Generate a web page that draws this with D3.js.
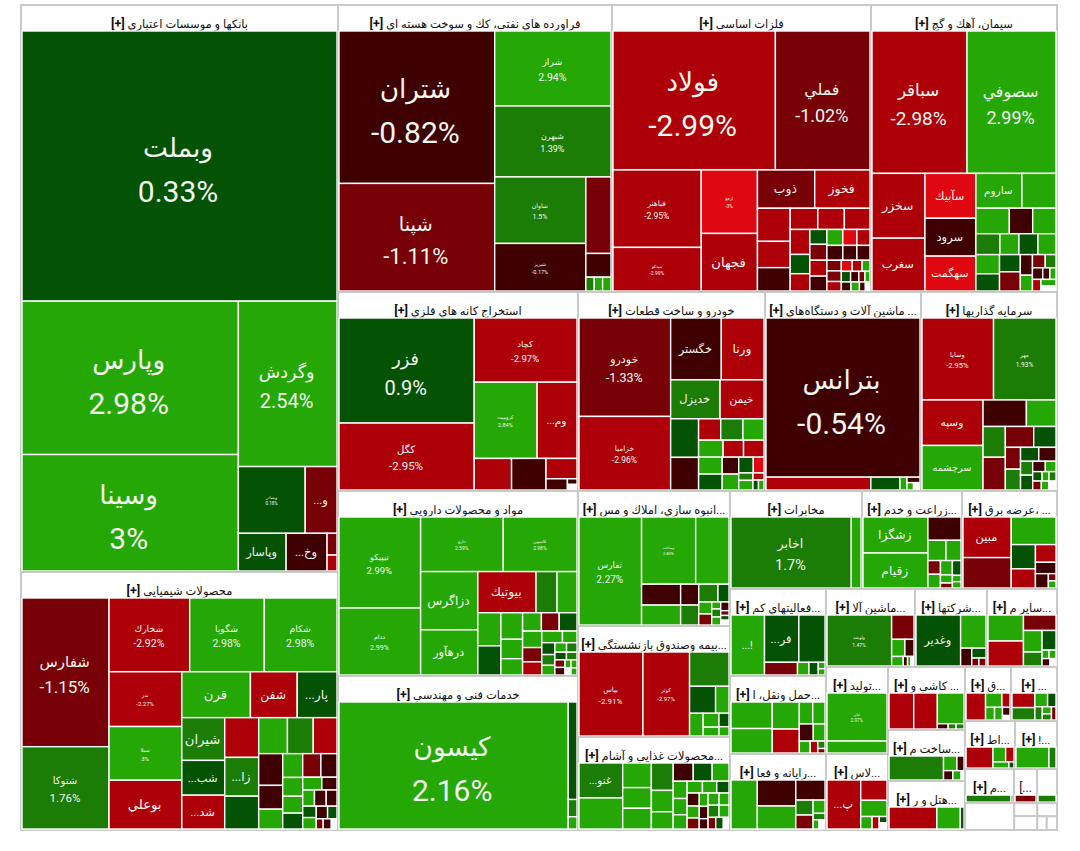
<!DOCTYPE html>
<html><head><meta charset="utf-8">
<script src="https://cdnjs.cloudflare.com/ajax/libs/d3/7.8.5/d3.min.js"></script>
<style>html,body{margin:0;padding:0;background:#fff}svg{display:block}</style></head>
<body><svg id="c" width="1080" height="851"></svg>
<script>
// Change levels read from cell colour where no label gives the exact figure
const g3=2.5,g2=1.5,g1=0.5,r1=-0.5,r2=-1.5,r3=-2.5,r4=-3.5,blank=null;

// Each leaf: [weight, change %, symbol, show %]; 'R' = side by side, 'C' = stacked
const banks=['C',[85094,0.33,'وبملت',1],['R',['C',[33048,2.98,'وپارس',1],[25056,3,'وسينا',1]],['C',[16170,2.54,'وگردش',1],['R',[4356,0.18,'وبصادر',1],[2046,r2,'و...']],['R',[1728,g1,'وپاسار'],[1476,r1,'وخ...'],['C',[189,r2],[135,r3]]]]]];

const chemA=['R',['C',[132,g1],[132,g3]],['C',['R',[121,r1],[99,g1]],['R',[55,r2],[66,r1],[44,blank]]]];
const chemB=['C',['R',[391,r2],[345,r1]],['R',[216,g3],[168,r1]],['R',[165,g3],[165,r1],[150,r1]],chemA];
const chemC=['R',['C',[713,r1],[529,r1],[437,g3]],['C',[437,g3],[342,g3],[304,g3],[285,g1]],chemB];
const chemD=['C',['R',[980,g3],[875,g2],[805,r3]],chemC];
const chemE=['R',['C',[1764,g2,'شيران'],[1428,g1,'شب...'],[1386,r3,'شد...']],['C',[1287,r3],[1254,g2,'زا...'],[1056,g1]],chemD];
const chemF=['C',['R',[3060,g3,'قرن'],[2070,r3,'شفن'],[1755,g1,'پار...']],chemE];
const chemicals=['R',['C',[12814,-1.15,'شفارس',1],[7052,1.76,'شتوکا',1]],['C',['R',[5840,-2.92,'شخارك',1],[5402,2.98,'شگويا',1],[5256,2.98,'شکام',1]],['R',['C',[3888,-2.27,'ندر',1],[3816,3,'سيلا',1],[3456,r3,'بوعلي']],chemF]]];

const oil=['R',['C',[23560,-0.82,'شتران',1],[16585,-1.11,'شپنا',1]],['C',[8584,2.94,'شراز',1],[8120,1.39,'شبهرن',1],['R',['C',[5940,1.5,'شاوان',1],[4230,-0.17,'شبريز',1]],['C',[1848,r2],[552,r1],['R',[96,g2],[96,g3],[96,g3]]]]]];

const metA=['R',['C',[130,r2],[130,r2],[115,r3]],['C',['R',[100,r4],[90,r3],[70,g3]],['R',[80,g1],[70,r1],[50,r2],[40,g3]],['R',[70,r1],[60,g3],[40,r1],[30,blank]]]];
const metB=['C',['R',[224,g3],[196,r4],[182,r3]],['R',[208,r1],[182,r1],[169,r1]],metA];
const metC=['R',['C',[450,r3],[342,g1],[306,r3]],['C',[224,g1],[240,r2],[240,r3],[224,r1]],metB];
const metD=['C',['R',[540,r3],[520,r3],[500,r3]],metC];
const metE=['C',['R',[2109,r2,'ذوب'],[2035,r3,'فخوز']],['R',['C',[1023,r3],[806,r3],[713,r1]],metD]];
const metals=['C',['R',[22356,-2.99,'فولاد',1],[12972,-1.02,'فملي',1]],['R',['C',[6699,-2.95,'فباهنر',1],[3741,-2.99,'ميدکو',1]],['C',[3465,-3,'ارفع',1],[3135,r3,'فجهان']],metE]];

const cemA=['R',['C',[414,g3],[368,g1]],['C',[323,g1],[361,r2]],['C',[220,r1],[165,g3]],['C',['R',[144,r2],[120,g2]],['R',[99,r1],[66,r1],[55,g3]],['R',[80,r3],['C',[80,g3],[60,blank]]]]];
const cemB=['C',['R',[1530,g3,'ساروم'],[1122,g3]],['R',[800,g3],[550,r1],[550,g3]],['R',[460,g2],[360,g3],[360,g1],[340,g3]],cemA];
const cement=['C',['R',[13348,-2.98,'سباقر',1],[12496,2.99,'سصوفي',1]],['R',['C',[3328,r3,'سخزر'],[2704,r3,'سغرب']],['C',[2200,r4,'سآبيك'],[1850,r1,'سرود'],[1700,r4,'سهگمت']],cemB]];

const mineA=['R',[1110,r3],[1020,r1],['C',[580,r3],['R',[210,r1],['C',[40,r1],[40,blank]]]]];
const mining=['R',['C',[13936,0.9,'فزر',1],[8844,-2.95,'کگل',1]],['C',[6426,-2.97,'کچاد',1],['R',[4650,2.84,'کروميت',1],[2925,r3,'وم...']],mineA]];

const autoA=['C',['R',[196,g1],[140,r4]],['R',['C',[84,g2],[112,g3]],['C',[60,r3],['R',[40,g1],[40,g3]]]]];
const autoB=['C',['R',[420,r3],[420,g2],[399,g3]],['R',[368,g3],[304,r3],[304,r3]],['R',['C',[352,g3],[330,g1]],['C',[240,r1],[225,g3]],autoA]];
const autoC=['C',['R',[2950,r1,'خگستر'],[2478,r3,'ورنا']],['R',[1795,g2,'خديزل'],[1591,r3,'خيمن']]];
const auto=['R',['C',[8624,-1.33,'خودرو',1],[6424,-2.96,'خزاميا',1]],['C',autoC,['R',['C',[988,g1],[832,r1]],autoB]]];

const machinery=['C',[24174,-0.54,'بترانس',1],['R',[1272,r3],[336,g1],[72,g3],['C',[55,r1],['R',[35,g3],[35,blank]]]]];

const invA=['C',['R',[108,r1],[90,g3]],['R',[70,g1],[50,g3],[50,g2]],['R',[60,r2],[50,g3],[50,blank]]];
const invB=['R',['C',[143,g2],[154,g1]],invA];
const invC=['C',['R',[221,g1],[208,r1]],invB];
const invD=['R',['C',[294,r2],[280,g2]],invC];
const invE=['C',['R',[540,r2],[420,g1]],invD];
const invF=['R',['C',[630,g2],[672,r2]],invE];
const invG=['C',['R',[1075,r1],[725,g3]],invF];
const investment=['C',['R',[5670,-2.95,'وسايا',1],[4941,1.93,'مهر',1]],['R',['C',[2655,r3,'وسپه'],[2596,g3,'سرچشمه']],invG]];

const phA=['C',['R',[90,g3],[80,g2]],['R',[70,g1],[63,g2]],['R',['C',[60,r2],[60,r1]],['C',['R',[35,g3],[35,g3]],['R',[30,blank],[30,g3]]]]];
const phB=['R',['C',[130,g1],[117,g2],[104,g3]],phA];
const phC=['C',['R',[209,g3],[143,g3]],phB];
const phD=['R',['C',[280,g3],[240,r2],[220,r3]],phC];
const phE=['C',['R',[306,g3],[289,r2],[289,g1]],phD];
const phF=['R',['C',[704,g3],[616,g1]],['C',[525,g3],[378,g3],[315,g3]],phE];
const phG=['C',['R',[2280,r3,'بيوتيك'],[800,g2],[760,g3]],phF];
const pharma=['R',['C',[7200,2.99,'تيپيکو',1],[5280,2.99,'ددام',1]],['C',['R',[4346,2.59,'دارو',1],[3869,2.98,'کاسپين',1]],['R',['C',[3192,g3,'دزاگرس'],[2464,g3,'درهآور']],phG]]];

const engineering=['R',[28956,2.16,'کيسون',1],['C',[800,g1],[128,g2],[88,g3]]];

const massA=['C',['R',[306,g2],[170,g1]],['R',['C',[132,g3],[120,r2]],['C',[48,g3],[56,g2],[56,g3]],['C',[56,r1],[28,r2],[28,g1],[28,blank]]]];
const massBuild=['R',[6588,2.27,'ثفارس',1],['C',['R',[3510,2.85,'وساخت',1],[2145,g3]],['R',['C',[760,r1],[722,g3]],['C',[340,r1],[323,g2]],massA]]];

const insurance=['R',[5022,-2.91,'بپاس',1],[3645,-2.97,'کوثر',1],['C',[1230,g2],['R',[624,g1],[312,g3]],['R',[264,g3],['C',[182,g3],[112,g3]],['C',[108,g1],[72,g3]]]]];

const foodA=['R',['C',[132,r1],[121,g3],[110,r2]],['C',[96,g3],[88,r1],[72,r1]],['C',['R',[110,g3],[99,g3]],['R',[110,g2],[99,g3]],['R',[70,r2],[70,g1],[50,blank]]]];
const foodB=['C',['R',[154,g3],[143,g3],[121,g1]],foodA];
const foodC=['C',['R',[324,r1],[306,g1],[270,g3]],['R',['C',[208,g3],[195,g3],[169,g3]],foodB]];
const food=['R',['C',[1435,g2,'غنو...'],[1271,g3]],['C',[648,g3],[540,g3],[540,g3]],['C',[546,g2],[420,g3],[336,g3]],foodC];

const telecom=['R',[8260,1.7,'اخابر',1],[630,g3]];
const agriculture=['R',['C',[2205,g3,'زشگزا'],[2142,g3,'زقيام']],['C',[704,r1],['R',[323,g3],[266,g3]],['R',['C',[144,r2],[144,g3]],['C',[143,g3],[77,g3],[44,r2]],['C',[104,g1],[40,g3],[40,g3]]]]];
const elecA=['C',[320,r3],[200,r1],['R',[156,r1],['C',[40,r2],[40,g3]]]];
const electricity=['R',['C',[1833,r3,'مبين'],[1363,r2]],['C',[1144,g3],['R',['C',[529,g1],[414,r3]],elecA]]];
const lowActivity=['R',[1888,g3,'!...'],['C',['R',[1518,g1,'فر...'],[1150,g1]],['R',[372,r2],[120,g3],[96,g1],['C',[30,g3],[30,g3]]]]];
const transport=['R',['C',[950,g3],[874,g3]],['C',[625,g3],[550,r3]],['C',['R',[240,g3],[220,g3]],['R',[192,r1],[160,g3]],['R',[99,g3],[66,r3],['C',[36,g2],[20,r2]]]]];
const computers=['R',[1200,g3],['C',[925,r1],[814,g3]],['C',[532,r1],['R',['C',[224,g2],[208,r2]],['C',[132,g3],[60,g2],['R',[40,g3],[40,blank]]]]]];
const machinery2=['R',[3087,1.47,'ولوشه',1],['C',[483,r2],['R',[192,g3],[128,r1]],['R',[88,g3],[28,r1],[20,g3],[20,blank]]]];
const companies=['R',[2156,g1,'وغدير'],['C',[775,g3],['R',[170,r1],['C',[117,g1],['R',[42,r2],[42,r2]]]]]];
const others=['R',['C',[816,g3],[782,r3]],['C',[434,r2],['R',['C',[342,g3],[216,g2]],['C',[228,g1],['R',[42,g3],[42,g3]],['R',[42,r1],[30,blank]]]]]];
const production=['C',[2714,2.97,'ثبان',1],[649,g3]];
const glass=['R',[1584,r3,'پ...'],['C',[494,r3],[390,g3],['R',[120,g3],[72,r3],['C',[36,g1],[36,blank]]]]];
const ceramics=['R',[782,r3],[748,r3],['C',[720,g3],['R',[40,r1],[28,g2],[28,g2]]]];
const construction=['R',[1144,g2],['C',['R',[156,g3],[78,r1]],['R',[64,r1],[56,g3],[16,blank]]]];
const hotels=['R',[966,r3],[462,g3],[63,g1]];
const sectorQ=['R',[494,r3],['C',['R',[210,g3],[98,r3]],['R',[96,g3],[84,g3],['C',[48,r1],[24,blank]]]]];
const sectorX=['R',['C',[286,r3],[242,g2]],['C',['R',[143,g3],[91,g1]],['R',[77,g2],['C',[48,g3],[40,g2]],[44,r2]]]];
const sectorAt=['R',[494,r3],['C',['R',[154,g3],[98,r3]],['R',[75,g3],[20,g1]]]];
const sectorEx=['R',[589,g3],[114,g2]];
const sectorM=['R',[235,g2],[6,g1]];
const sectorBr=['R',[80,r2]];
const sectorEnd=['R',[60,g2]];

const sectorTitles={banks:'بانکها و موسسات اعتباري',chemicals:'محصولات شيميايي',oil:'فراورده هاي نفتي، کك و سوخت هسته اي',metals:'فلزات اساسي',cement:'سيمان، آهك و گچ',mining:'استخراج کانه هاي فلزي',auto:'خودرو و ساخت قطعات',machinery:'... ماشين آلات و دستگاه‌هاي',investment:'سرمايه گذاريها',pharma:'مواد و محصولات دارويي',engineering:'خدمات فني و مهندسي',massBuild:'...انبوه سازي، املاك و مس',insurance:'...بيمه وصندوق بازنشستگي',food:'...محصولات غذايي و آشام',telecom:'مخابرات',agriculture:'...زراعت و خدم',electricity:'... ،عرضه برق',lowActivity:'...فعاليتهاي کم',transport:'...حمل ونقل، ا',computers:'...رايانه و فعا',machinery2:'...ماشين آلا',companies:'...شرکتها',others:'...ساير م',production:'...توليد',glass:'...لاس',ceramics:'... کاشي و',construction:'...ساخت م',hotels:'...هتل و ر',sectorQ:'...ق',sectorX:'...',sectorAt:'...اط',sectorEx:'...!',sectorM:'...م'};
const sectorCells={banks,chemicals,oil,metals,cement,mining,auto,machinery,investment,pharma,engineering,massBuild,insurance,food,telecom,agriculture,electricity,lowActivity,transport,computers,machinery2,companies,others,production,glass,ceramics,construction,hotels,sectorQ,sectorX,sectorAt,sectorEx,sectorM,sectorBr,sectorEnd};

// Sector weights: [weight, sector id]
const endRows=['C',['R',[2484,'sectorQ'],[2484,'sectorX']],['R',[2400,'sectorAt'],[2016,'sectorEx']],['R',[1666,'sectorM'],[782,'sectorBr'],[680,'sectorEnd']],['R',[1323,''],['C',[299,''],[322,'']],['C',[260,''],['R',[130,''],[140,'']]]]];
const smallBlock=['R',['C',[5394,'production'],[4712,'glass']],['C',[4851,'ceramics'],[3927,'construction'],[3773,'hotels']],endRows];
const rightBlock=['C',['R',[6942,'machinery2'],[5616,'companies'],[5460,'others']],smallBlock];
const lowerRight=['R',['C',[8352,'lowActivity'],[7488,'transport'],[7296,'computers']],rightBlock];
const farRight=['C',['R',[12936,'telecom'],[9800,'agriculture'],[9310,'electricity']],lowerRight];
const sectorTree=['R',
 ['C',[179739,'banks'],[81786,'chemicals']],
 ['C',
  ['R',[78638,'oil'],[74333,'metals'],[53382,'cement']],
  ['R',[47760,'mining'],[37213,'auto'],[31044,'machinery'],[27064,'investment']],
  ['R',['C',[44400,'pharma'],[36960,'engineering']],['C',[20520,'massBuild'],[16872,'insurance'],[14136,'food']],farRight]]];

// ---- styles, kept apart from the data
const labelSize={'وبملت':30,'وپارس':30,'وسينا':30,'وگردش':20,'وبصادر':4.5,'و...':13,'وپاسار':13,'وخ...':13,'شفارس':17,'شتوکا':11.5,'شخارك':10.5,'شگويا':10.5,'شکام':10.5,'ندر':6,'سيلا':6,'بوعلي':15,'قرن':15,'شفن':14,'پار...':14,'شيران':15,'شب...':13,'شد...':13,'زا...':14,'شتران':30,'شپنا':22,'شراز':10.5,'شبهرن':9,'شاوان':7,'شبريز':5.5,'فولاد':30,'فملي':18,'فباهنر':8.5,'ميدکو':5,'ارفع':5,'فجهان':15,'ذوب':14,'فخوز':14,'سباقر':19,'سصوفي':18,'سخزر':14,'سغرب':13,'سآبيك':13,'سرود':13,'سهگمت':12.5,'ساروم':12,'فزر':20,'کگل':11.5,'کچاد':9.5,'کروميت':5.5,'وم...':12,'خودرو':12.5,'خزاميا':8.5,'خگستر':13,'ورنا':14,'خديزل':13,'خيمن':12,'بترانس':30,'وسايا':7.5,'مهر':6.5,'وسپه':12,'سرچشمه':11,'تيپيکو':9.5,'ددام':7,'دارو':5,'کاسپين':5,'دزاگرس':14,'درهآور':13,'بيوتيك':14,'کيسون':30,'ثفارس':10,'وساخت':4,'بپاس':8,'کوثر':6,'غنو...':12,'اخابر':14.5,'زشگزا':14,'زقيام':14,'مبين':13,'!...':12,'فر...':13,'ولوشه':5,'وغدير':13,'ثبان':4.5,'پ...':13};
const levelColors=['#df0710','#ad0009','#780007','#3f0002','#045204','#1b7c06','#25a805'];
const color=d3.scaleThreshold().domain([-2.995,-2,-1,0,1,2]).range(levelColors);
const FRAME={x0:21,y0:5,x1:1057,y1:830},HEADER=26,NAME_SCALE=0.88;
const FONT="Roboto,'DejaVu Sans',sans-serif";

const isSplit=d=>d[0]==='R'||d[0]==='C';
const tile=(n,x0,y0,x1,y1)=>(n.data[0]==='C'?d3.treemapSlice:d3.treemapDice)(n,x0,y0,x1,y1);
// gap: the white line round a cell takes room, so a leaf's share grows by its perimeter
const layout=(tree,w,h,gap)=>d3.treemap().size([w,h]).tile(tile).round(false)(
  d3.hierarchy(tree,d=>isSplit(d)?d.slice(1):null).sum(d=>isSplit(d)?0:d[0]+2*gap*Math.sqrt(d[0])+gap*gap));

const svg=d3.select('#c');
const sectors=layout(sectorTree,FRAME.x1-FRAME.x0,FRAME.y1-FRAME.y0,0).leaves();
const root=svg.append('g').attr('transform',`translate(${FRAME.x0},${FRAME.y0})`);

const sg=root.selectAll('g.s').data(sectors).join('g').attr('class','s')
  .attr('transform',d=>`translate(${d.x0},${d.y0})`);
sg.append('rect').attr('width',d=>d.x1-d.x0).attr('height',d=>d.y1-d.y0)
  .attr('fill','#fff').attr('stroke','#c9c9c9').attr('stroke-width',2);

sg.each(function(s){
  const id=s.data[1],g=d3.select(this),w=s.x1-s.x0,h=s.y1-s.y0;
  const title=sectorTitles[id];
  if(title!==undefined){
    const t=g.append('text').attr('x',w/2).attr('y',HEADER-3).attr('text-anchor','middle')
      .attr('direction','rtl').attr('font-family',FONT).attr('font-size',11.5).attr('fill','#111');
    t.append('tspan').text(title+' ');
    t.append('tspan').attr('font-size',12.5).attr('font-weight','bold').text('[+]');
  }
  if(id==='sectorBr') g.append('text').attr('x',w/2).attr('y',HEADER-3).attr('text-anchor','middle')
      .attr('font-family',FONT).attr('font-size',12).attr('fill','#111').text('[...');
  const cells=sectorCells[id];
  if(!cells) return;
  const leaves=layout(cells,w-2,h-HEADER-1,1).leaves();
  const c=g.append('g').attr('transform',`translate(1,${HEADER})`)
    .selectAll('g').data(leaves).join('g').attr('transform',d=>`translate(${d.x0},${d.y0})`);
  c.append('rect').attr('width',d=>d.x1-d.x0).attr('height',d=>d.y1-d.y0)
    .attr('fill',d=>d.data[1]===null?'#fff':color(d.data[1])).attr('stroke','#fff').attr('stroke-width',1.4);
  c.filter(d=>d.data[2]).each(function(d){
    const cw=d.x1-d.x0,ch=d.y1-d.y0,fs=labelSize[d.data[2]]||10,n=d3.select(this),sh=d.data[3];
    n.append('text').attr('x',cw/2-0.05*fs).attr('y',ch/2+(sh?-0.3*fs:0.3*fs)).attr('text-anchor','middle')
      .attr('direction','rtl').attr('font-family',FONT).attr('font-size',fs*NAME_SCALE).attr('fill','#f2f7ef').text(d.data[2]);
    if(sh) n.append('text').attr('x',cw/2-0.05*fs).attr('y',ch/2+1.2*fs).attr('text-anchor','middle')
      .attr('font-family',FONT).attr('font-size',fs).attr('fill','#f2f7ef').text(d.data[1]+'%');
  });
});
</script></body></html>
